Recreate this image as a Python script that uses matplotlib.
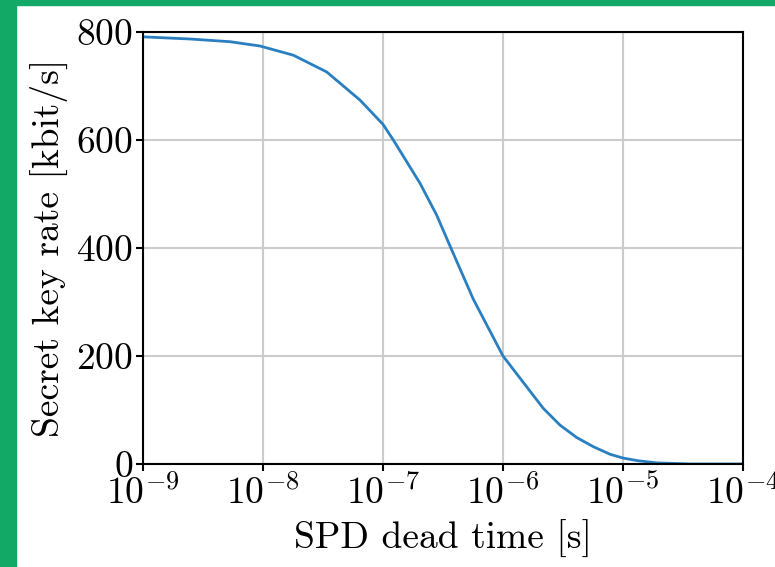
import matplotlib
matplotlib.use('Agg')
import matplotlib.pyplot as plt
from matplotlib.patches import Rectangle

# Fonts in the style of LaTeX / Computer Modern
plt.rcParams['font.family'] = ['cmr10', 'DejaVu Serif']
plt.rcParams['mathtext.fontset'] = 'cm'
plt.rcParams['axes.formatter.use_mathtext'] = True
plt.rcParams['axes.unicode_minus'] = True

# Data (log10 of the dead time in seconds)
log_dead_time = [-9.0, -8.608, -8.275, -8.025, -7.747, -7.469, -7.192, -7.0,
                 -6.914, -6.692, -6.553, -6.442, -6.247, -6.0, -5.803, -5.664,
                 -5.525, -5.386, -5.247, -5.108, -5.0, -4.875, -4.717, -4.44, -4.0]
key_rate = [791, 787, 782, 774, 757, 726, 674, 629,
            600, 520, 461, 404, 305, 200, 143, 103,
            72, 49, 32, 18, 11, 6, 2, 0, 0]
dead_time = [10 ** v for v in log_dead_time]

fig = plt.figure(figsize=(7.75, 5.67), dpi=100)
ax = fig.add_axes([0.1845, 0.1817, 0.7742, 0.7619])

ax.plot(dead_time, key_rate, color='#2a7fc0', lw=2)
ax.set_xscale('log')
ax.set_xlim(1e-9, 1e-4)
ax.set_ylim(0, 800)
ax.set_yticks([0, 200, 400, 600, 800])
ax.minorticks_off()
ax.grid(True, color='#cccccc', lw=1.5)
ax.set_axisbelow(True)

for s in ax.spines.values():
    s.set_linewidth(1.5)
ax.tick_params(labelsize=27, width=1.5, length=5, pad=2)

ax.set_xlabel('SPD dead time [s]', fontsize=27, labelpad=6)
ax.set_ylabel('Secret key rate [kbit/s]', fontsize=27, labelpad=6)

# green frame on the left and top
fig.patches.append(Rectangle((0, 0), 16 / 775, 1, transform=fig.transFigure,
                             color='#12a866', zorder=10))
fig.patches.append(Rectangle((0, 1 - 5 / 567), 1, 5 / 567, transform=fig.transFigure,
                             color='#12a866', zorder=10))

fig.savefig('out.png', dpi=100)
